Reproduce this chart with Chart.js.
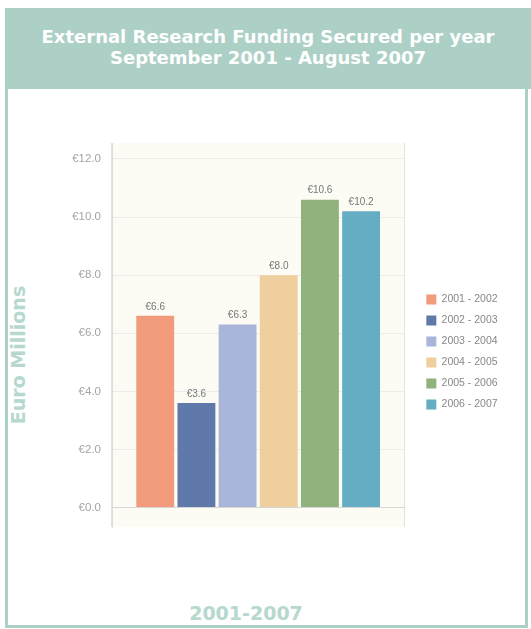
<!DOCTYPE html>
<html>
<head>
<meta charset="utf-8">
<script src="https://cdn.jsdelivr.net/npm/chart.js@4.4.0/dist/chart.umd.min.js"></script>
<style>
    html, body { margin: 0; padding: 0; background: #fff; }
    #page { position: relative; width: 531px; height: 629px; overflow: hidden; }
    #header {
        position: absolute; left: 5px; top: 8px; width: 526px; height: 81px;
        background: #acd0c6; color: #fff;
        font: bold 18px "DejaVu Sans", Verdana, sans-serif;
        text-align: center; line-height: 21px; padding-top: 18px; box-sizing: border-box;
    }
    #frame {
        position: absolute; left: 5px; top: 89px; width: 523px; height: 539px;
        border: 3px solid #acd0c6; border-top: none; box-sizing: border-box; background: #fff;
    }
    #yTitle {
        position: absolute; left: 18px; top: 355px; transform: translate(-50%, -50%) rotate(-90deg);
        color: #b6d8ce; font: bold 19px "DejaVu Sans", Verdana, sans-serif; white-space: nowrap;
    }
    #xTitle {
        position: absolute; left: 246px; top: 613px; transform: translate(-50%, -50%);
        color: #b6d8ce; font: bold 19px "DejaVu Sans", Verdana, sans-serif; white-space: nowrap;
    }
    #chart { position: absolute; left: 0; top: 0; }
</style>
</head>
<body>
<div id="page">
    <div id="header">External Research Funding Secured per year<br>September 2001 - August 2007</div>
    <div id="frame"></div>
    <div id="yTitle">Euro Millions</div>
    <div id="xTitle">2001-2007</div>
    <canvas id="chart" width="531" height="629"></canvas>
</div>
<script>
// ---- data ----
const periods = ['2001 - 2002', '2002 - 2003', '2003 - 2004', '2004 - 2005', '2005 - 2006', '2006 - 2007'];
const funding = [6.6, 3.6, 6.3, 8.0, 10.6, 10.2];
const barColors = ['#f19a7c', '#6079ab', '#a9b6da', '#efcf9e', '#90b27c', '#64adc3'];
const yTicks = [0, 2, 4, 6, 8, 10, 12];

// cream plot background
const plotBackground = {
    id: 'plotBackground',
    beforeDraw(chart) {
        const { ctx, chartArea: a } = chart;
        ctx.save();
        ctx.fillStyle = '#fcfcf5';
        ctx.fillRect(a.left, a.top, a.right - a.left, a.bottom - a.top);
        ctx.restore();
    }
};

// value labels above bars
const valueLabels = {
    id: 'valueLabels',
    afterDatasetsDraw(chart) {
        const ctx = chart.ctx;
        ctx.save();
        ctx.font = '10px "Liberation Sans", Arial, sans-serif';
        ctx.fillStyle = '#777';
        ctx.textAlign = 'center';
        ctx.textBaseline = 'bottom';
        chart.data.datasets.forEach((ds, i) => {
            const bar = chart.getDatasetMeta(i).data[0];
            ctx.fillText('\u20ac' + ds.data[0].toFixed(1), bar.x, bar.y - 4);
        });
        ctx.restore();
    }
};

const datasets = periods.map((p, i) => ({
    label: p,
    data: [funding[i]],
    backgroundColor: barColors[i],
    borderWidth: 0,
    categoryPercentage: 0.845,
    barPercentage: 0.92
}));

new Chart(document.getElementById('chart'), {
    type: 'bar',
    data: { labels: [''], datasets: datasets },
    plugins: [plotBackground, valueLabels],
    options: {
        responsive: false,
        animation: false,
        layout: { padding: { top: 143, bottom: 102, left: 0, right: 32 } },
        plugins: {
            tooltip: { enabled: false },
            legend: {
                position: 'right',
                title: { display: true, text: ' ', font: { size: 10 }, padding: 11 },
                labels: {
                    boxWidth: 10,
                    boxHeight: 10,
                    padding: 10.5,
                    color: '#888',
                    font: { family: '"Liberation Sans", Arial, sans-serif', size: 10.5 }
                }
            }
        },
        scales: {
            x: {
                grid: { display: true, color: '#e2e2e2', drawTicks: false, offset: true },
                border: { display: false },
                ticks: { display: false },
                afterFit: s => { s.height = 0; }
            },
            y: {
                min: -0.67,
                max: 12.55,
                afterFit: s => { s.width = 112; },
                afterBuildTicks: s => { s.ticks = yTicks.map(v => ({ value: v })); },
                grid: {
                    drawTicks: false,
                    color: c => (c.tick && c.tick.value === 0) ? '#d6d6d6' : '#ececec'
                },
                border: { color: '#dddddd' },
                ticks: {
                    padding: 11,
                    color: '#a4a4a4',
                    font: { family: '"Liberation Sans", Arial, sans-serif', size: 11.5 },
                    callback: v => '\u20ac' + Number(v).toFixed(1)
                }
            },
            pad: {
                type: 'linear',
                position: 'right',
                display: true,
                grid: { display: false },
                border: { display: false },
                ticks: { display: false },
                afterFit: s => { s.width = 11.5; }
            }
        }
    }
});
</script>
</body>
</html>
